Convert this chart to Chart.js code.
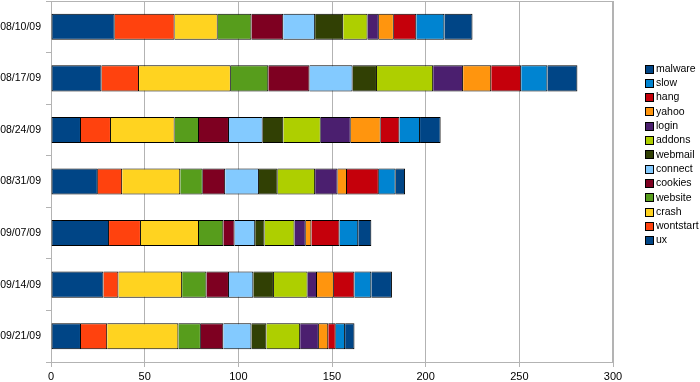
<!DOCTYPE html>
<html><head><meta charset="utf-8">
<script src="https://cdn.jsdelivr.net/npm/chart.js@4"></script>
<style>html,body{margin:0;padding:0;background:#fff}#wrap{width:700px;height:382px}</style>
</head><body><div id="wrap"><canvas id="c" width="700" height="382"></canvas></div>
<script>
const categories = ['08/10/09','08/17/09','08/24/09','08/31/09','09/07/09','09/14/09','09/21/09'];
const ux        = [34,27,16,25,31,28,16];
const wontstart = [32,20,16,13,17, 8,14];
const crash     = [23,49,34,31,31,34,38];
const website   = [18,20,13,12,13,13,12];
const cookies   = [17,22,16,12, 6,12,12];
const connect   = [17,23,18,18,11,13,15];
const webmail   = [15,13,11,10, 5,11, 8];
const addons    = [13,30,20,20,16,18,18];
const login     = [ 6,16,16,12, 6, 5,10];
const yahoo     = [ 8,15,16, 5, 3, 9, 5];
const hang      = [12,16,10,17,15,11, 4];
const slow      = [15,14,11, 9,10, 9, 5];
const malware   = [15,16,11, 5, 7,11, 5];
const xTicks = [0,50,100,150,200,250,300];

const seriesNames = ['ux','wontstart','crash','website','cookies','connect','webmail','addons','login','yahoo','hang','slow','malware'];
const seriesData = [ux,wontstart,crash,website,cookies,connect,webmail,addons,login,yahoo,hang,slow,malware];
const seriesColors = ['#004586','#ff420e','#ffd320','#579d1c','#7e0021','#83caff','#314004','#aecf00','#4b1f6f','#ff950e','#c5000b','#0084d1','#004586'];

const FONT = '"Liberation Sans", Arial, sans-serif';
Chart.defaults.font.family = FONT;
Chart.defaults.font.size = 10.5;
Chart.defaults.color = '#000';

const GRID = '#b3b3b3';

const frame = {
  id: 'frame',
  beforeDatasetsDraw(chart) {
    const {ctx, chartArea: a} = chart;
    ctx.save();
    ctx.strokeStyle = GRID;
    ctx.lineWidth = 1;
    ctx.strokeRect(a.left + 0.5, a.top + 0.5, a.right - a.left - 1, a.bottom - a.top);
    ctx.restore();
  }
};

const sideLegend = {
  id: 'sideLegend',
  afterDraw(chart) {
    const ctx = chart.ctx;
    const ds = chart.data.datasets;
    ctx.save();
    ctx.font = '10.5px ' + FONT;
    ctx.textBaseline = 'middle';
    ctx.textAlign = 'left';
    const x0 = 645, y0 = 69, step = 14.3;
    for (let k = 0; k < ds.length; k++) {
      const d = ds[ds.length - 1 - k];
      const cy = y0 + k * step;
      const top = Math.round(cy - 4.5);
      ctx.fillStyle = d.backgroundColor;
      ctx.fillRect(x0, top, 9, 9);
      ctx.strokeStyle = '#000';
      ctx.lineWidth = 1;
      ctx.strokeRect(x0 + 0.5, top + 0.5, 8, 8);
      ctx.fillStyle = '#000';
      ctx.fillText(d.label, x0 + 11, cy);
    }
    ctx.restore();
  }
};

new Chart(document.getElementById('c'), {
  type: 'bar',
  data: {
    labels: categories,
    datasets: seriesNames.map((n, i) => ({
      label: n,
      data: seriesData[i],
      backgroundColor: seriesColors[i],
      borderColor: '#000',
      borderWidth: 1,
      borderSkipped: i === 0 ? false : 'start',
      categoryPercentage: 1,
      barPercentage: 0.505
    }))
  },
  options: {
    indexAxis: 'y',
    responsive: false,
    animation: false,
    layout: { padding: { top: 1, right: 87, left: 0, bottom: 0 } },
    plugins: { legend: { display: false }, tooltip: { enabled: false } },
    scales: {
      x: {
        stacked: true,
        min: 0, max: 300,
        afterBuildTicks(s) { s.ticks = xTicks.map(v => ({ value: v })); },
        afterFit(s) { s.height = 20; s.paddingLeft = 0; s.paddingRight = 0; },
        grid: { color: GRID, tickLength: 5, tickColor: GRID },
        border: { color: GRID },
        ticks: { padding: 3, maxRotation: 0, font: { size: 11 } }
      },
      y: {
        stacked: true,
        afterFit(s) { s.width = 51; s.paddingTop = 0; s.paddingBottom = 0; },
        grid: { drawOnChartArea: false, tickLength: 5, color: GRID, offset: true },
        border: { color: GRID },
        ticks: { padding: 5 }
      }
    }
  },
  plugins: [frame, sideLegend]
});
</script>
</body></html>
